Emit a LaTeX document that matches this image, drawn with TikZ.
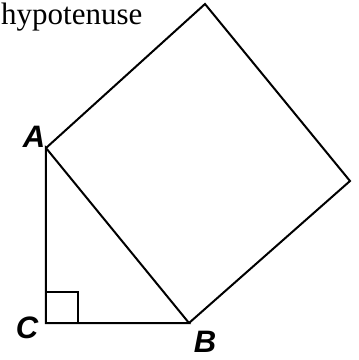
\documentclass[tikz,border=0pt]{standalone}
\usepackage{fontspec}
\setmainfont{Liberation Serif}
\newfontfamily\lblfont{Liberation Sans}
\begin{document}
\begin{tikzpicture}[x=1pt,y=-1pt,
  edge/.style={line width=2pt,line join=miter},
  vlabel/.style={font=\lblfont\fontsize{31}{31}\selectfont\bfseries\itshape,inner sep=0pt}]
\useasboundingbox (0,0) rectangle (359,360);
\coordinate (A) at (46,148);
\coordinate (C) at (46,323);
\coordinate (B) at (189,323);
\coordinate (D) at (205,4);
\coordinate (E) at (350,181);
\coordinate (R1) at (78,323);
\coordinate (R2) at (78,292);
\coordinate (R3) at (46,292);
\draw[edge] (A) -- (C) -- (B) -- cycle;
\draw[edge] (A) -- (D) -- (E) -- (B);
\draw[edge] (R1) -- (R2) -- (R3);
\node[vlabel] (lA) at (34,137) {A};
\node[vlabel] (lC) at (27,328) {C};
\node[vlabel] (lB) at (205,342) {B};
\node[anchor=base west,inner sep=0pt,font=\fontsize{31}{31}\selectfont] (hyp) at (1,24) {hypotenuse};
\end{tikzpicture}
\end{document}
